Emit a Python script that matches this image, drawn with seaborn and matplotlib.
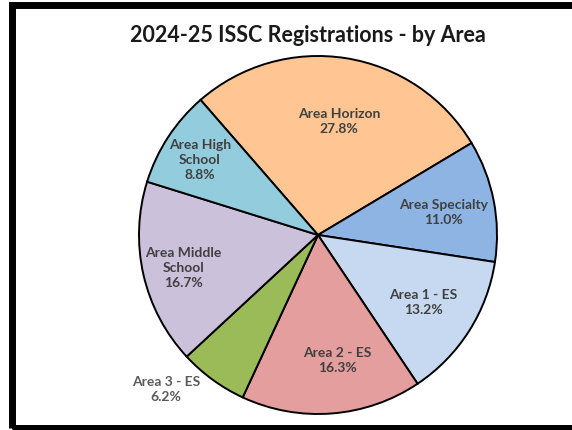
import matplotlib
matplotlib.use("Agg")
import matplotlib.pyplot as plt
from matplotlib.patches import Rectangle
import seaborn as sns

# Registration shares by area (percent), in clockwise order from the top
areas = ["Area Horizon", "Area Specialty", "Area 1 - ES", "Area 2 - ES",
         "Area 3 - ES", "Area Middle\nSchool", "Area High\nSchool"]
shares = [27.8, 11.0, 13.2, 16.3, 6.2, 16.7, 8.8]
colors = ["#FFC593", "#8EB4E3", "#C6D9F1", "#E49E9E",
          "#9BBB59", "#CCC1DA", "#93CDDD"]

sns.set_theme(style="white")
plt.rcParams["font.family"] = ["Lato", "DejaVu Sans"]

W, H = 572, 431
fig = plt.figure(figsize=(W / 100, H / 100), dpi=100)

# axes centred on the pie, radius 179 px
cx, cy, r = 318, 236, 179
lim = 1.06
half = r * lim
ax = fig.add_axes([(cx - half) / W, (H - cy - half) / H, 2 * half / W, 2 * half / H])

wedges, _ = ax.pie(shares, colors=sns.color_palette(colors), startangle=131,
                   counterclock=False, radius=1,
                   wedgeprops=dict(edgecolor="black", linewidth=1.4))
ax.set_xlim(-lim, lim)
ax.set_ylim(-lim, lim)
ax.set_aspect("equal")
ax.axis("off")

# label anchor points (in pie radii)
label_pos = [(0.117, 0.637), (0.70, 0.134), (0.587, -0.374), (0.108, -0.693),
             (-0.849, -0.855), (-0.752, -0.179), (-0.66, 0.425)]
for name, val, (lx, ly) in zip(areas, shares, label_pos):
    col = "#5A5A5A" if name == "Area 3 - ES" else "#404040"
    ax.text(lx, ly, f"{name}\n{val:.1f}%", ha="center", va="center",
            fontsize=10, fontweight="bold", color=col, linespacing=1.3)

fig.text(307.5 / W, 1 - 35 / H, "2024-25 ISSC Registrations - by Area",
         ha="center", va="center", fontsize=15.5, fontweight="bold", color="#1A1A1A")

# outer frame (runs off the right edge)
frame = Rectangle((11.5 / W, 2.5 / H), (W + 20) / W, (425 - 2.5) / H,
                  transform=fig.transFigure, fill=False, edgecolor="black",
                  linewidth=5.0, clip_on=False)
fig.patches.append(frame)

fig.savefig("out.png", dpi=100)
